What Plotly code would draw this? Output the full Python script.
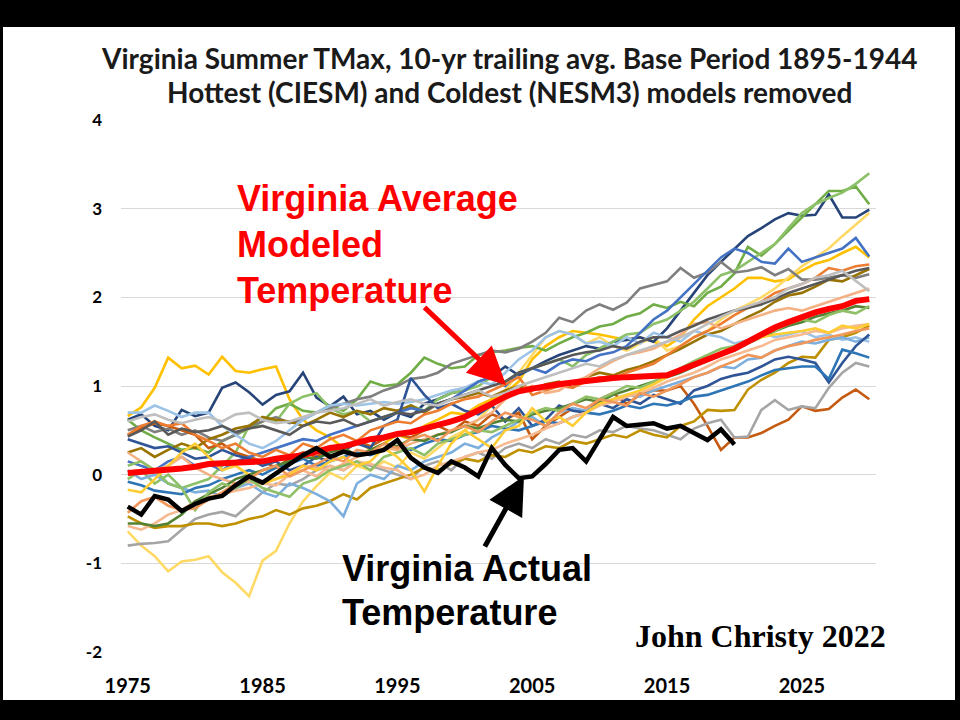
import plotly.graph_objects as go

years = list(range(1975, 2031))
actual_years = list(range(1975, 2021))

x_tick_vals = [1975, 1985, 1995, 2005, 2015, 2025]
x_tick_text = ["1975", "1985", "1995", "2005", "2015", "2025"]
y_tick_vals = [-2, -1, 0, 1, 2, 3, 4]
y_tick_text = ["-2", "-1", "0", "1", "2", "3", "4"]

avg_model = [0.02, 0.03, 0.04, 0.05, 0.07, 0.09, 0.12, 0.13, 0.14, 0.14,
             0.15, 0.18, 0.20, 0.22, 0.26, 0.30, 0.32, 0.36, 0.40, 0.42,
             0.46, 0.48, 0.52, 0.55, 0.60, 0.65, 0.72, 0.80, 0.88, 0.94,
             0.97, 1.00, 1.02, 1.04, 1.06, 1.07, 1.09, 1.10, 1.11, 1.12,
             1.12, 1.18, 1.24, 1.30, 1.36, 1.42, 1.50, 1.58, 1.66, 1.72,
             1.78, 1.83, 1.87, 1.90, 1.96, 1.98]

actual = [-0.36, -0.45, -0.24, -0.28, -0.41, -0.33, -0.27, -0.24, -0.12, -0.02,
          -0.09, 0.02, 0.12, 0.22, 0.30, 0.20, 0.26, 0.22, 0.24, 0.28,
          0.39, 0.19, 0.08, 0.02, 0.15, 0.08, -0.02, 0.30, 0.11, -0.04,
          -0.02, 0.12, 0.28, 0.30, 0.15, 0.40, 0.65, 0.55, 0.57, 0.58,
          0.52, 0.55, 0.47, 0.39, 0.51, 0.34]

m01 = [0.66, 0.76, 0.98, 1.32, 1.20, 1.23, 1.13, 1.33, 1.17, 1.15,
       1.19, 1.22, 0.85, 0.62, 0.50, 0.42, 0.30, 0.38, 0.28, 0.35,
       0.45, 0.40, 0.55, 0.62, 0.70, 0.68, 0.78, 0.85, 0.92, 1.05,
       1.30, 1.45, 1.55, 1.62, 1.60, 1.58, 1.55, 1.52, 1.55, 1.50,
       1.45, 1.55, 1.75, 1.90, 2.00, 2.10, 2.22, 2.22, 2.18, 2.20,
       2.30, 2.38, 2.42, 2.50, 2.57, 2.45]
m02 = [-0.64, -0.80, -0.92, -1.09, -0.98, -0.96, -0.92, -1.10, -1.22, -1.37,
       -0.97, -0.86, -0.55, -0.30, -0.13, 0.02, -0.05, 0.10, 0.05, 0.15,
       0.08, 0.25, 0.18, 0.30, 0.42, 0.50, 0.62, 0.78, 0.95, 1.15,
       1.35, 1.55, 1.62, 1.58, 1.48, 1.55, 1.45, 1.40, 1.48, 1.55,
       1.40, 1.45, 1.55, 1.62, 1.75, 1.85, 1.92, 2.00, 2.10, 2.22,
       2.35, 2.45, 2.55, 2.69, 2.82, 2.95]
m03 = [0.62, 0.68, 0.55, 0.50, 0.73, 0.66, 0.70, 0.98, 1.04, 0.93,
       0.79, 0.90, 0.94, 1.15, 0.87, 0.77, 0.88, 0.68, 0.72, 0.62,
       0.70, 0.65, 0.80, 0.85, 0.92, 0.95, 1.05, 1.10, 1.22, 1.12,
       1.20, 1.28, 1.35, 1.40, 1.45, 1.42, 1.50, 1.52, 1.55, 1.50,
       1.65, 1.85, 2.05, 2.25, 2.40, 2.55, 2.69, 2.78, 2.88, 2.95,
       2.92, 2.93, 3.16, 2.90, 2.90, 2.99]
m04 = [0.62, 0.50, 0.42, 0.35, 0.28, 0.30, 0.25, 0.38, 0.45, 0.52,
       0.60, 0.75, 0.80, 0.72, 0.70, 0.78, 0.72, 0.85, 1.05, 1.00,
       1.02, 1.15, 1.32, 1.25, 1.20, 1.22, 1.35, 1.38, 1.40, 1.43,
       1.45, 1.40, 1.48, 1.55, 1.60, 1.67, 1.70, 1.78, 1.82, 1.92,
       1.88, 1.95, 1.90, 2.05, 2.12, 2.27, 2.57, 2.47, 2.60, 2.75,
       2.90, 3.05, 3.20, 3.20, 3.25, 3.05]
m05 = [-0.05, 0.05, -0.10, 0.00, -0.15, -0.10, -0.05, 0.10, 0.25, 0.55,
       0.65, 0.60, 0.80, 0.88, 0.92, 0.75, 0.68, 0.72, 0.60, 0.65,
       0.70, 0.78, 0.72, 0.85, 0.92, 0.95, 1.00, 1.10, 1.05, 1.15,
       1.20, 1.25, 1.30, 1.22, 1.35, 1.42, 1.50, 1.58, 1.60, 1.70,
       1.75, 1.85, 1.95, 2.10, 2.25, 2.30, 2.40, 2.50, 2.60, 2.78,
       2.95, 3.05, 3.12, 3.18, 3.28, 3.40]
m06 = [0.50, 0.55, 0.48, 0.52, 0.45, 0.50, 0.42, 0.38, 0.45, 0.55,
       0.60, 0.65, 0.58, 0.62, 0.70, 0.75, 0.80, 0.85, 0.88, 0.95,
       1.00, 1.08, 1.10, 1.15, 1.25, 1.30, 1.35, 1.40, 1.38, 1.42,
       1.50, 1.60, 1.77, 1.72, 1.85, 1.92, 1.86, 1.94, 2.10, 2.14,
       2.18, 2.33, 2.22, 2.28, 2.40, 2.28, 2.30, 2.34, 2.25, 2.32,
       2.20, 2.20, 2.22, 2.25, 2.22, 2.26]
m07 = [0.45, 0.52, 0.58, 0.55, 0.50, 0.45, 0.30, 0.35, 0.25, 0.20,
       0.15, 0.08, 0.18, 0.25, 0.20, 0.30, 0.25, 0.38, 0.32, 0.40,
       0.45, 0.42, 0.50, 0.55, 0.48, 0.60, 0.55, 0.68, 0.62, 0.70,
       0.40, 0.55, 0.65, 0.75, 0.70, 0.85, 0.92, 0.80, 0.90, 0.95,
       0.95, 1.00, 0.80, 0.55, 0.28, 0.42, 0.42, 0.47, 0.55, 0.62,
       0.77, 0.72, 0.74, 0.87, 0.96, 0.85]
m08 = [-0.80, -0.78, -0.77, -0.75, -0.62, -0.50, -0.45, -0.42, -0.47, -0.34,
       -0.20, -0.10, -0.12, -0.05, 0.05, 0.10, 0.05, 0.15, 0.10, 0.05,
       0.00, -0.05, 0.10, 0.15, 0.05, 0.20, 0.25, 0.18, 0.30, 0.35,
       0.30, 0.40, 0.35, 0.45, 0.42, 0.50, 0.48, 0.55, 0.52, 0.50,
       0.45, 0.40, 0.52, 0.58, 0.62, 0.42, 0.43, 0.73, 0.84, 0.73,
       0.77, 0.75, 0.98, 1.15, 1.26, 1.22]
m09 = [-0.47, -0.55, -0.60, -0.58, -0.58, -0.55, -0.55, -0.58, -0.55, -0.50,
       -0.47, -0.40, -0.45, -0.38, -0.35, -0.30, -0.22, -0.28, -0.15, -0.10,
       -0.05, 0.00, 0.08, 0.05, 0.12, 0.18, 0.15, 0.22, 0.20, 0.28,
       0.25, 0.32, 0.30, 0.38, 0.35, 0.40, 0.45, 0.42, 0.50, 0.45,
       0.42, 0.55, 0.60, 0.73, 0.72, 0.73, 0.96, 1.07, 1.15, 1.26,
       1.33, 1.32, 1.52, 1.55, 1.60, 1.68]
m10 = [0.25, 0.30, 0.20, 0.28, 0.35, 0.30, 0.40, 0.45, 0.52, 0.55,
       0.65, 0.62, 0.60, 0.55, 0.62, 0.70, 0.65, 0.72, 0.68, 0.75,
       0.72, 0.78, 0.70, 0.80, 0.85, 0.88, 0.92, 0.88, 0.95, 1.00,
       0.95, 1.02, 1.05, 0.98, 1.10, 1.15, 1.12, 1.18, 1.22, 1.28,
       1.35, 1.42, 1.50, 1.58, 1.62, 1.70, 1.78, 1.85, 1.95, 2.02,
       2.05, 2.12, 2.20, 2.18, 2.25, 2.32]
m11 = [0.70, 0.70, 0.78, 0.72, 0.65, 0.70, 0.70, 0.55, 0.45, 0.35,
       0.30, 0.38, 0.50, 0.62, 0.70, 0.78, 0.80, 0.78, 0.80, 0.82,
       0.80, 0.82, 0.85, 0.90, 0.95, 0.98, 1.05, 1.02, 1.15, 1.30,
       1.40, 1.55, 1.62, 1.58, 1.48, 1.50, 1.45, 1.55, 1.48, 1.60,
       1.55, 1.50, 1.62, 1.58, 1.55, 1.48, 1.52, 1.60, 1.55, 1.58,
       1.62, 1.55, 1.58, 1.52, 1.55, 1.50]
m12 = [0.05, -0.05, 0.00, -0.10, -0.15, -0.20, -0.18, -0.25, -0.15, -0.10,
       -0.20, -0.25, -0.10, -0.15, -0.22, -0.30, -0.47, -0.10, 0.00, -0.05,
       0.10, 0.05, 0.15, 0.20, 0.25, 0.35, 0.30, 0.42, 0.50, 0.60,
       0.65, 0.55, 0.70, 0.75, 0.72, 0.80, 0.85, 0.90, 0.88, 0.95,
       1.00, 1.05, 1.10, 1.15, 1.22, 1.20, 1.30, 1.32, 1.40, 1.45,
       1.50, 1.48, 1.52, 1.55, 1.50, 1.55]
m13 = [0.15, 0.10, 0.05, 0.15, 0.20, 0.10, 0.12, 0.05, 0.15, 0.20,
       0.25, 0.30, 0.35, 0.40, 0.38, 0.45, 0.50, 0.55, 0.60, 0.65,
       0.70, 0.75, 0.72, 0.80, 0.85, 0.95, 1.05, 1.10, 1.00, 1.15,
       1.20, 1.15, 1.25, 1.30, 1.28, 1.35, 1.38, 1.45, 1.60, 1.75,
       1.85, 2.00, 2.15, 2.30, 2.45, 2.55, 2.50, 2.40, 2.38, 2.55,
       2.40, 2.45, 2.50, 2.55, 2.67, 2.46]
m14 = [0.40, 0.35, 0.30, 0.32, 0.25, 0.18, 0.20, 0.28, 0.22, 0.18,
       0.10, 0.15, 0.05, 0.10, 0.20, 0.15, 0.28, 0.35, 0.30, 0.55,
       0.62, 1.09, 0.90, 0.75, 0.80, 0.72, 0.68, 0.78, 0.60, 0.75,
       0.55, 0.62, 0.78, 0.72, 0.70, 0.80, 0.75, 0.85, 0.80, 0.90,
       0.85, 0.80, 0.95, 1.00, 1.08, 1.12, 1.15, 1.22, 1.30, 1.33,
       1.30, 1.26, 1.04, 1.26, 1.45, 1.58]
m15 = [-0.08, -0.12, -0.18, -0.20, -0.22, -0.15, -0.12, -0.05, 0.00, 0.05,
       0.00, 0.08, 0.12, 0.18, 0.10, 0.15, 0.20, 0.25, 0.22, 0.28,
       0.32, 0.28, 0.35, 0.40, 0.38, 0.45, 0.48, 0.55, 0.52, 0.50,
       0.55, 0.60, 0.58, 0.65, 0.70, 0.68, 0.72, 0.78, 0.75, 0.80,
       0.78, 0.82, 0.88, 0.90, 0.95, 1.00, 1.05, 1.12, 1.18, 1.20,
       1.22, 1.22, 1.08, 1.41, 1.37, 1.32]
m16 = [0.45, 0.55, 0.60, 0.55, 0.58, 0.45, 0.38, 0.30, 0.35, 0.25,
       0.20, 0.28, 0.22, 0.35, 0.30, 0.40, 0.45, 0.38, 0.50, 0.55,
       0.60, 0.58, 0.68, 0.72, 0.80, 0.85, 0.88, 0.95, 1.02, 1.10,
       0.90, 0.95, 1.00, 0.98, 1.05, 1.10, 1.08, 1.15, 1.20, 1.25,
       1.35, 1.45, 1.55, 1.62, 1.70, 1.80, 1.88, 1.95, 2.05, 2.10,
       2.15, 2.22, 2.33, 2.30, 2.35, 2.37]
m17 = [0.25, 0.15, 0.05, 0.10, 0.20, 0.08, 0.00, -0.05, -0.10, -0.08,
       -0.10, -0.05, 0.02, 0.10, 0.08, 0.05, 0.12, 0.20, 0.25, 0.30,
       0.28, 0.35, 0.40, 0.45, 0.50, 0.55, 0.62, 0.70, 0.85, 0.95,
       1.00, 0.92, 0.95, 1.05, 1.10, 1.20, 1.28, 1.35, 1.38, 1.42,
       1.50, 1.58, 1.70, 1.72, 1.65, 1.70, 1.75, 1.80, 1.85, 1.88,
       1.85, 1.90, 1.95, 2.00, 2.05, 2.10]
m18 = [-0.58, -0.62, -0.55, -0.45, -0.40, -0.30, -0.25, -0.22, -0.18, -0.15,
       -0.10, -0.12, 0.00, 0.05, -0.02, 0.10, 0.05, 0.15, 0.12, 0.08,
       0.05, -0.05, 0.00, 0.10, 0.15, 0.20, 0.25, 0.28, 0.35, 0.40,
       0.45, 0.52, 0.58, 0.65, 0.70, 0.78, 0.82, 0.88, 0.92, 0.98,
       1.05, 1.10, 1.15, 1.22, 1.30, 1.35, 1.40, 1.45, 1.52, 1.55,
       1.58, 1.62, 1.60, 1.65, 1.68, 1.70]
m19 = [-0.55, -0.55, -0.58, -0.55, -0.45, -0.30, -0.22, -0.15, -0.05, 0.00,
       0.05, 0.10, 0.15, 0.20, 0.18, 0.25, 0.30, 0.22, 0.28, 0.35,
       0.32, 0.40, 0.38, 0.45, 0.48, 0.55, 0.52, 0.58, 0.62, 0.60,
       0.68, 0.72, 0.75, 0.80, 0.85, 0.82, 0.90, 0.95, 1.00, 1.05,
       1.10, 1.15, 1.22, 1.28, 1.35, 1.40, 1.48, 1.55, 1.62, 1.68,
       1.72, 1.78, 1.82, 1.85, 1.90, 1.88]
m20 = [0.10, 0.15, 0.05, -0.10, -0.15, -0.40, -0.20, -0.10, -0.15, -0.05,
       -0.15, -0.20, -0.25, -0.10, -0.05, 0.05, 0.10, 0.15, 0.05, 0.20,
       0.25, 0.30, 0.22, 0.35, 0.40, 0.45, 0.50, 0.48, 0.55, 0.62,
       0.70, 0.75, 0.72, 0.80, 0.88, 0.85, 0.92, 1.00, 0.98, 1.05,
       1.12, 1.20, 1.28, 1.35, 1.42, 1.45, 1.52, 1.58, 1.62, 1.70,
       1.75, 1.72, 1.80, 1.85, 1.82, 1.90]
m21 = [0.43, 0.50, 0.60, 0.45, 0.52, 0.48, 0.50, 0.55, 0.48, 0.52,
       0.55, 0.50, 0.45, 0.55, 0.60, 0.58, 0.62, 0.55, 0.60, 0.65,
       0.70, 0.68, 0.72, 0.80, 0.85, 0.90, 0.95, 1.00, 1.05, 1.15,
       1.20, 1.25, 1.30, 1.35, 1.38, 1.40, 1.45, 1.42, 1.50, 1.55,
       1.55, 1.62, 1.68, 1.75, 1.80, 1.85, 1.88, 1.92, 1.98, 2.05,
       2.10, 2.15, 2.20, 2.25, 2.30, 2.33]
m22 = [0.60, 0.65, 0.68, 0.62, 0.58, 0.62, 0.65, 0.60, 0.68, 0.70,
       0.62, 0.58, 0.60, 0.65, 0.70, 0.72, 0.75, 0.80, 0.85, 0.78,
       0.82, 0.85, 0.80, 0.78, 0.85, 0.90, 0.95, 0.88, 0.92, 1.00,
       1.05, 1.10, 1.15, 1.20, 1.25, 1.22, 1.30, 1.35, 1.40, 1.45,
       1.50, 1.55, 1.62, 1.70, 1.78, 1.85, 1.90, 1.95, 2.00, 2.10,
       2.15, 2.22, 2.25, 2.30, 2.18, 2.07]
m23 = [-0.17, -0.20, -0.05, 0.10, 0.25, 0.35, 0.20, 0.05, 0.10, 0.00,
       -0.10, -0.05, 0.00, 0.10, 0.05, 0.15, 0.20, 0.10, 0.15, 0.30,
       0.20, 0.05, -0.19, 0.10, 0.35, 0.50, 0.40, 0.30, 0.50, 0.55,
       0.75, 0.60, 0.65, 0.55, 0.70, 0.80, 0.85, 0.90, 0.95, 1.02,
       1.10, 1.18, 1.25, 1.30, 1.38, 1.42, 1.50, 1.55, 1.58, 1.60,
       1.62, 1.65, 1.60, 1.68, 1.65, 1.70]
m24 = [-0.43, -0.30, -0.25, -0.35, -0.40, -0.38, -0.28, -0.20, -0.10, -0.05,
       0.05, 0.10, -0.02, 0.05, 0.12, 0.20, 0.15, 0.28, 0.25, 0.35,
       0.30, 0.40, 0.45, 0.38, 0.50, 0.55, 0.48, 0.60, 0.70, 0.65,
       0.62, 0.55, 0.70, 0.80, 0.75, 0.85, 0.82, 0.78, 0.92, 0.88,
       0.95, 1.02, 1.10, 1.15, 1.22, 1.28, 1.35, 1.32, 1.40, 1.45,
       1.48, 1.52, 1.55, 1.58, 1.62, 1.65]

model_series = [m01, m02, m03, m04, m05, m06, m07, m08, m09, m10, m11, m12,
                m13, m14, m15, m16, m17, m18, m19, m20, m21, m22, m23, m24]
model_colors = ["#FFC000", "#FFD966", "#264478", "#70AD47", "#8CC168", "#7F7F7F",
                "#C55A11", "#A5A5A5", "#BF9000", "#997300", "#9DC3E6", "#7CAFDD",
                "#4472C4", "#2F5597", "#2E75B6", "#ED7D31", "#F4B183", "#F7B98F",
                "#548235", "#8FBF66", "#595959", "#BFBFBF", "#FFCD33", "#F1975A"]

fig = go.Figure()
for vals, col in zip(model_series, model_colors):
    fig.add_trace(go.Scatter(x=years, y=vals, mode="lines",
                             line=dict(color=col, width=2.6), hoverinfo="skip"))
fig.add_trace(go.Scatter(x=years, y=avg_model, mode="lines",
                         line=dict(color="#FF0000", width=6)))
fig.add_trace(go.Scatter(x=actual_years, y=actual, mode="lines",
                         line=dict(color="#000000", width=4.5)))

# plot area: px 121..876 horizontally, 120..652 vertically
L, R, T, B = 121, 876, 120, 652
PW, PH = R - L, B - T


def px(xp):
    return (xp - L) / PW


def py(yp):
    return (B - yp) / PH


shapes = [dict(type="rect", xref="paper", yref="paper", layer="below",
               x0=px(3), x1=px(955), y0=py(700), y1=py(27),
               fillcolor="white", line=dict(width=0))]

ann = []
title_font = dict(family="Lato", size=28, color="#1a1a1a", weight="bold")
ann.append(dict(text="Virginia Summer TMax, 10-yr trailing avg. Base Period 1895-1944",
                x=px(509), y=py(58), xref="paper", yref="paper", showarrow=False,
                xanchor="center", yanchor="middle", font=title_font))
ann.append(dict(text="Hottest (CIESM) and Coldest (NESM3) models removed",
                x=px(509), y=py(92), xref="paper", yref="paper", showarrow=False,
                xanchor="center", yanchor="middle", font=title_font))

red_font = dict(family="Liberation Sans", size=36, color="#FF0000", weight="bold")
for txt, yc in [("Virginia Average", 198), ("Modeled", 244), ("Temperature", 290)]:
    ann.append(dict(text=txt, x=px(235), y=py(yc), xref="paper", yref="paper",
                    showarrow=False, xanchor="left", yanchor="middle", font=red_font))

blk_font = dict(family="Liberation Sans", size=36, color="#000000", weight="bold")
for txt, yc in [("Virginia Actual", 568), ("Temperature", 612)]:
    ann.append(dict(text=txt, x=px(340), y=py(yc), xref="paper", yref="paper",
                    showarrow=False, xanchor="left", yanchor="middle", font=blk_font))

ann.append(dict(text="John Christy 2022", x=px(760), y=py(636), xref="paper", yref="paper",
                showarrow=False, xanchor="center", yanchor="middle",
                font=dict(family="Liberation Serif", size=32, color="#000000", weight="bold")))

# arrows
ann.append(dict(text="", x=px(506), y=py(385), xref="paper", yref="paper",
                showarrow=True, ax=423 - 506, ay=306 - 385, axref="pixel", ayref="pixel",
                arrowhead=2, arrowsize=1.5, arrowwidth=5, arrowcolor="#FF0000", standoff=0))
ann.append(dict(text="", x=px(524), y=py(476), xref="paper", yref="paper",
                showarrow=True, ax=484 - 524, ay=548 - 476, axref="pixel", ayref="pixel",
                arrowhead=2, arrowsize=1.5, arrowwidth=5, arrowcolor="#000000", standoff=0))

tick_font = dict(family="Lato", size=17, color="#000000", weight="bold")
fig.update_layout(
    width=960, height=720,
    margin=dict(l=L, r=960 - R, t=T, b=720 - B),
    paper_bgcolor="black", plot_bgcolor="white",
    showlegend=False,
    shapes=shapes, annotations=ann,
    xaxis=dict(range=[1974.5, 2030.5], tickmode="array", tickvals=x_tick_vals,
               ticktext=x_tick_text, showgrid=False, zeroline=False, showline=False,
               ticks="", ticklabelstandoff=20,
               tickfont=dict(family="Lato", size=20, color="#000000", weight="bold")),
    yaxis=dict(range=[-2, 4], tickmode="array", tickvals=y_tick_vals, ticktext=y_tick_text,
               showgrid=True, gridcolor="#D9D9D9", gridwidth=1, zeroline=False,
               showline=False, ticks="", ticklabelstandoff=18, tickfont=tick_font),
)

fig.write_html("out.html", config={"displayModeBar": False},
               post_script="document.body.style.margin='0';document.body.style.background='black';")
